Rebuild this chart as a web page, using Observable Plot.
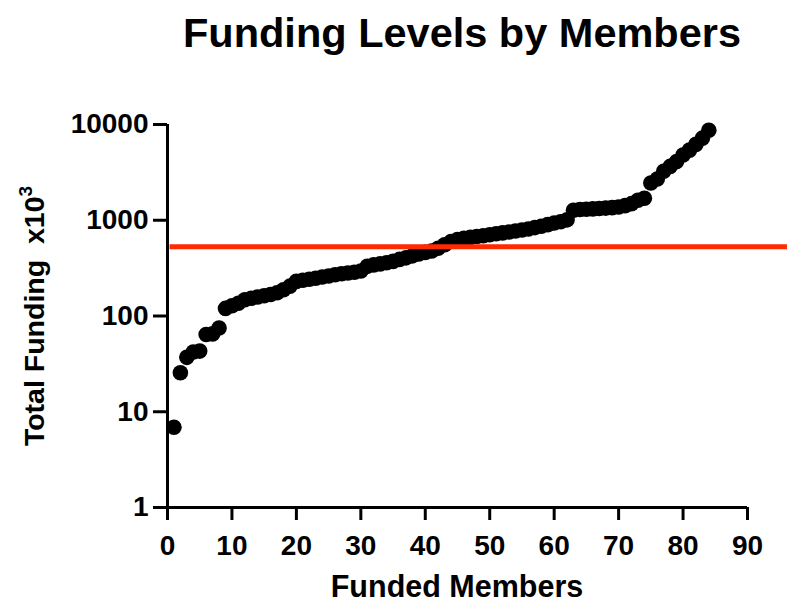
<!DOCTYPE html>
<html>
<head>
<meta charset="utf-8">
<script src="https://cdn.jsdelivr.net/npm/d3@7"></script>
<script src="https://cdn.jsdelivr.net/npm/@observablehq/plot@0.6"></script>
<style>
  body { margin: 0; background: #fff; font-family: "Liberation Sans", Arial, Helvetica, sans-serif; }
  #wrap { position: relative; width: 795px; height: 613px; }
  #title { position: absolute; left: 462px; top: 12px; transform: translateX(-50%); font-weight: bold; font-size: 41.5px; line-height: 41.5px; white-space: nowrap; color: #000; }
  #chart { position: absolute; left: 0; top: 70px; }
</style>
</head>
<body>
<div id="wrap">
  <div id="title">Funding Levels by Members</div>
  <div id="chart"></div>
</div>
<script>
// Data (funding in thousands, members ranked 1..84)
const funding = [
  6.9, 25.5, 37, 42, 43, 64, 65, 75, 120, 128,
  136, 148, 153, 158, 163, 168, 175, 188, 205, 230,
  236, 242, 248, 255, 262, 270, 276, 281, 286, 295,
  330, 342, 350, 360, 372, 390, 405, 425, 445, 462,
  478, 510, 555, 600, 630, 648, 662, 676, 690, 705,
  722, 738, 755, 772, 790, 810, 838, 865, 900, 935,
  965, 1010, 1270, 1295, 1305, 1315, 1325, 1340, 1355, 1375,
  1420, 1490, 1620, 1700, 2450, 2700, 3250, 3650, 4100, 4800,
  5400, 6200, 7200, 8700
];
const referenceLevel = 530;     // red horizontal line
const referenceFrom = 0.4;
const referenceTo = 96.2;
const xTicks = [0, 10, 20, 30, 40, 50, 60, 70, 80, 90];
const yTicks = [1, 10, 100, 1000, 10000];
const xLabel = "Funded Members";
const yLabelMain = "Total Funding\u00a0\u00a0x10";
const yLabelSup = "3";

const data = funding.map((v, i) => ({member: i + 1, funding: v}));
const refLine = [{y: referenceLevel, x1: referenceFrom, x2: referenceTo}];

const font = '"Liberation Sans", Arial, Helvetica, sans-serif';

const chart = Plot.plot({
  width: 795,
  height: 543,
  marginTop: 54,
  marginBottom: 106,
  marginLeft: 167,
  marginRight: 48,
  x: {domain: [0, 90]},
  y: {type: "log", domain: [1, 10000]},
  style: {fontFamily: font, fontSize: "28px", fontWeight: "bold", color: "#000", background: "#fff", overflow: "visible"},
  marks: [
    Plot.axisX({ticks: xTicks, tickSize: 13, tickPadding: 15, strokeWidth: 3, label: null, tickFormat: d => String(d)}),
    Plot.axisY({ticks: yTicks, tickSize: 14, tickPadding: 5, strokeWidth: 3, label: null, tickFormat: d => String(d)}),
    Plot.ruleX([0], {strokeWidth: 3, stroke: "#000"}),
    Plot.ruleY([1], {strokeWidth: 3, stroke: "#000"}),
    Plot.dot(data, {x: "member", y: "funding", r: 7.8, fill: "#000", stroke: null}),
    Plot.ruleY(refLine, {y: "y", x1: "x1", x2: "x2", stroke: "#ff2a00", strokeWidth: 5})
  ]
});

document.getElementById("chart").appendChild(chart);

const svg = d3.select(chart);
svg.append("text")
  .attr("x", 457).attr("y", 527)
  .attr("text-anchor", "middle")
  .attr("font-family", font).attr("font-weight", "bold").attr("font-size", 30.5)
  .attr("fill", "#000")
  .text(xLabel);

const yl = svg.append("text")
  .attr("transform", "translate(44,246) rotate(-90)")
  .attr("text-anchor", "middle")
  .attr("font-family", font).attr("font-weight", "bold").attr("font-size", 28.5)
  .attr("fill", "#000");
yl.append("tspan").text(yLabelMain);
yl.append("tspan").attr("font-size", 19).attr("dy", -12).text(yLabelSup);
</script>
</body>
</html>
